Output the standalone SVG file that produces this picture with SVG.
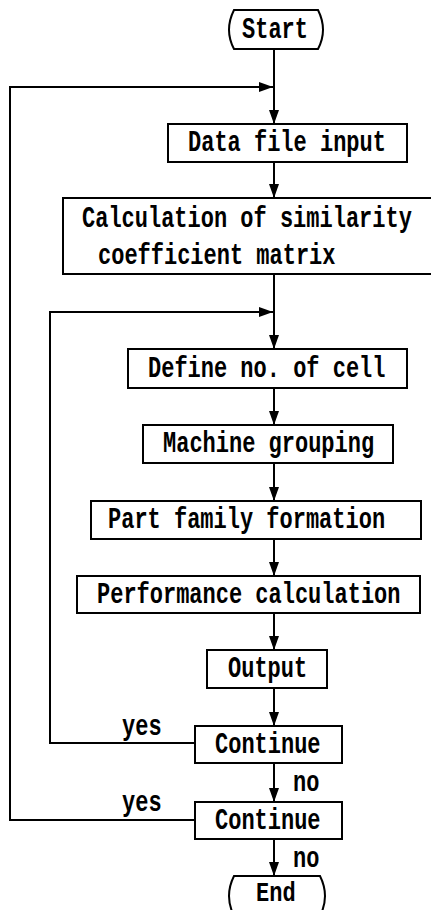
<svg xmlns="http://www.w3.org/2000/svg" width="431" height="910" viewBox="0 0 431 910">
<defs>
<marker id="ah" viewBox="0 0 14 10" refX="14" refY="5" markerWidth="14" markerHeight="10" markerUnits="userSpaceOnUse" orient="auto">
<path d="M0,0 L14,5 L0,10 Z" fill="#000"/>
</marker>
</defs>
<style>
.b{fill:#fff;stroke:#000;stroke-width:2}
.t{font-family:"Liberation Mono",monospace;font-size:22px;font-weight:bold;fill:#000}
.c{fill:none;stroke:#000;stroke-width:2}
</style>
<rect width="431" height="910" fill="#fff"/>
<g id="connectors">
<path class="c" d="M274,49 V124" marker-end="url(#ah)"/>
<path class="c" d="M274,162 V198" marker-end="url(#ah)"/>
<path class="c" d="M274,274 V349" marker-end="url(#ah)"/>
<path class="c" d="M274,388 V425" marker-end="url(#ah)"/>
<path class="c" d="M274,463 V501" marker-end="url(#ah)"/>
<path class="c" d="M274,539 V576" marker-end="url(#ah)"/>
<path class="c" d="M274,613 V650" marker-end="url(#ah)"/>
<path class="c" d="M274,688 V726" marker-end="url(#ah)"/>
<path class="c" d="M274,763 V802" marker-end="url(#ah)"/>
<path class="c" d="M274,839 V876" marker-end="url(#ah)"/>
<path class="c" d="M195,820 H10 V87 H273" marker-end="url(#ah)"/>
<path class="c" d="M195,743 H50 V312 H273" marker-end="url(#ah)"/>
<text class="t" transform="translate(122,735) scale(1,1.3)">yes</text>
<text class="t" transform="translate(122,811) scale(1,1.3)">yes</text>
<text class="t" transform="translate(293,791) scale(1,1.3)">no</text>
<text class="t" transform="translate(293,867) scale(1,1.3)">no</text>
</g>
<g id="start">
<path class="b" d="M234,10 H318 Q328,30 318,49 H234 Q224,30 234,10 Z"/>
<text class="t" transform="translate(242,38) scale(1,1.3)">Start</text>
</g>
<g id="data">
<rect class="b" x="168" y="124" width="239" height="38"/>
<text class="t" transform="translate(188,151) scale(1,1.3)">Data file input</text>
</g>
<g id="calc">
<rect class="b" x="63" y="198" width="370" height="76"/>
<text class="t" transform="translate(82,227) scale(1,1.3)">Calculation of similarity</text>
<text class="t" transform="translate(98,264) scale(1,1.3)">coefficient matrix</text>
</g>
<g id="define">
<rect class="b" x="128" y="349" width="279" height="39"/>
<text class="t" transform="translate(148,377) scale(1,1.3)">Define no. of cell</text>
</g>
<g id="machine">
<rect class="b" x="143" y="425" width="250" height="38"/>
<text class="t" transform="translate(163,452) scale(1,1.3)">Machine grouping</text>
</g>
<g id="part">
<rect class="b" x="91" y="501" width="330" height="38"/>
<text class="t" transform="translate(108,528) scale(1,1.3)">Part family formation</text>
</g>
<g id="perf">
<rect class="b" x="77" y="576" width="343" height="37"/>
<text class="t" transform="translate(97,603) scale(1,1.3)">Performance calculation</text>
</g>
<g id="output">
<rect class="b" x="207" y="650" width="120" height="38"/>
<text class="t" transform="translate(228,677) scale(1,1.3)">Output</text>
</g>
<g id="cont1">
<rect class="b" x="195" y="726" width="147" height="37"/>
<text class="t" transform="translate(215,753) scale(1,1.3)">Continue</text>
</g>
<g id="cont2">
<rect class="b" x="195" y="802" width="147" height="37"/>
<text class="t" transform="translate(215,829) scale(1,1.3)">Continue</text>
</g>
<g id="end">
<path class="b" d="M234,876 H320 Q330,896 320,916 H234 Q224,896 234,876 Z"/>
<text class="t" transform="translate(256,901) scale(1,1.25)">End</text>
</g>
</svg>
